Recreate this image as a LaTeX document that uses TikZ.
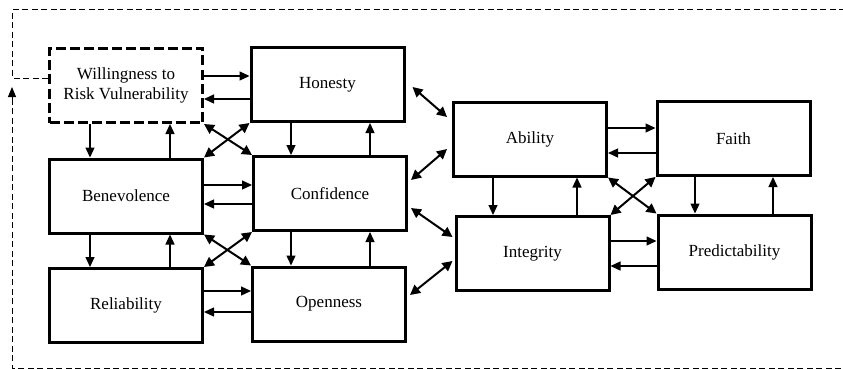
\documentclass[tikz,border=0pt]{standalone}
\usepackage{fontspec}
\setmainfont{Liberation Serif}
\usetikzlibrary{arrows.meta,calc}
\begin{document}
\begin{tikzpicture}[x=1pt,y=-1pt,
  box/.style={draw,line width=3pt,minimum width=153pt,minimum height=74pt,inner sep=2pt,
    font=\fontsize{17}{20}\selectfont,align=center,fill=white},
  dbox/.style={box,dash pattern=on 10pt off 4pt},
  arr/.style={line width=1.3pt,-{Triangle[length=10pt,width=9pt]}},
  darr/.style={line width=2pt,{Triangle[length=10pt,width=10pt]}-{Triangle[length=10pt,width=10pt]}},
  fb/.style={line width=1pt,dash pattern=on 6pt off 3.5pt}]
\useasboundingbox (0,0) rectangle (843,369);
\fill[white] (0,0) rectangle (843,369);
% nodes
\node[dbox] (W) at (126,85.5) {Willingness to\\Risk Vulnerability};
\node[box] (H) at (327.5,84.5) {Honesty};
\node[box] (B) at (126,196) {Benevolence};
\node[box] (C) at (330,193.5) {Confidence};
\node[box] (R) at (126,305.5) {Reliability};
\node[box] (O) at (329,304) {Openness};
\node[box] (A) at (530,139) {Ability};
\node[box] (I) at (532.5,253.5) {Integrity};
\node[box] (F) at (733.5,138.5) {Faith};
\node[box] (P) at (734.5,252) {Predictability};
% feedback loop
\coordinate (fb) at (12,78);
\coordinate (fbt) at (12,10);
\coordinate (fbr) at (860,10);
\coordinate (fbbr) at (860,368);
\coordinate (fbb) at (12,368);
\coordinate (fbe) at (12,87);
\draw[fb] (W.west |- fb) -- (fb) -- (fbt) -- (fbr);
\draw[fb] (fbbr) -- (fbb) -- ($(fbe)+(0,14)$);
\draw[line width=1pt,-{Triangle[length=10pt,width=8pt]}] ($(fbe)+(0,14)$) -- (fbe);
% horizontal pairs
\draw[arr] (W.east |- 0,76) -- (H.west |- 0,76);
\draw[arr] (H.west |- 0,99) -- (W.east |- 0,99);
\draw[arr] (B.east |- 0,185) -- (C.west |- 0,185);
\draw[arr] (C.west |- 0,204) -- (B.east |- 0,204);
\draw[arr] (R.east |- 0,291) -- (O.west |- 0,291);
\draw[arr] (O.west |- 0,312) -- (R.east |- 0,312);
\draw[arr] (A.east |- 0,128) -- (F.west |- 0,128);
\draw[arr] (F.west |- 0,153) -- (A.east |- 0,153);
\draw[arr] (I.east |- 0,241) -- (P.west |- 0,241);
\draw[arr] (P.west |- 0,266) -- (I.east |- 0,266);
% vertical pairs
\draw[arr] (W.south -| 90,0) -- (B.north -| 90,0);
\draw[arr] (B.north -| 170,0) -- (W.south -| 170,0);
\draw[arr] (B.south -| 90,0) -- (R.north -| 90,0);
\draw[arr] (R.north -| 170,0) -- (B.south -| 170,0);
\draw[arr] (H.south -| 291,0) -- (C.north -| 291,0);
\draw[arr] (C.north -| 370,0) -- (H.south -| 370,0);
\draw[arr] (C.south -| 291,0) -- (O.north -| 291,0);
\draw[arr] (O.north -| 370,0) -- (C.south -| 370,0);
\draw[arr] (A.south -| 493,0) -- (I.north -| 493,0);
\draw[arr] (I.north -| 577,0) -- (A.south -| 577,0);
\draw[arr] (F.south -| 695,0) -- (P.north -| 695,0);
\draw[arr] (P.north -| 773,0) -- (F.south -| 773,0);
% crosses
\draw[darr] (W.south east) -- (C.north west);
\draw[darr] (H.south west) -- (B.north east);
\draw[darr] (B.south east) -- (O.north west);
\draw[darr] (C.south west) -- (R.north east);
\draw[darr] (A.south east) -- (P.north west);
\draw[darr] (I.north east) -- (F.south west);
% diagonals to right column
\draw[darr] ($(H.east |- 0,87)+(7,0)$) -- ($(A.west |- 0,117)+(-5,0)$);
\draw[darr] ($(C.east |- 0,180)+(3,0)$) -- ($(A.west |- 0,149)+(-5,0)$);
\draw[darr] ($(C.east |- 0,208)+(3,0)$) -- ($(I.west |- 0,237)+(-2,0)$);
\draw[darr] ($(O.east |- 0,295)+(3,0)$) -- ($(I.west |- 0,261)+(-2,0)$);
\end{tikzpicture}
\end{document}
